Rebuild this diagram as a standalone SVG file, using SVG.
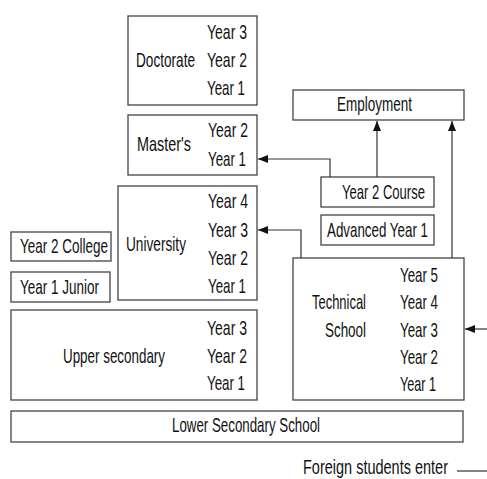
<svg xmlns="http://www.w3.org/2000/svg" width="487" height="479" viewBox="0 0 487 479">
<defs>
<style>
.box{fill:#fff;stroke:#444;stroke-width:1.3}
.t{font-family:"Liberation Sans",Arial,sans-serif;font-size:21px;fill:#111}
.c{fill:none;stroke:#333;stroke-width:1.2}
</style>
<marker id="ah" viewBox="0 0 10 8" refX="10" refY="4" markerWidth="10" markerHeight="8" markerUnits="userSpaceOnUse" orient="auto">
<path d="M0,0 L10,4 L0,8 Z" fill="#111"/>
</marker>
</defs>
<rect width="487" height="479" fill="#fff"/>
<g id="doctorate">
<rect class="box" x="128" y="16" width="129" height="89"/>
<text class="t" x="136" y="67" textLength="59" lengthAdjust="spacingAndGlyphs">Doctorate</text>
<text class="t" x="207" y="39" textLength="40" lengthAdjust="spacingAndGlyphs">Year 3</text>
<text class="t" x="207" y="67" textLength="40" lengthAdjust="spacingAndGlyphs">Year 2</text>
<text class="t" x="207" y="95" textLength="38" lengthAdjust="spacingAndGlyphs">Year 1</text>
</g>
<g id="masters">
<rect class="box" x="128" y="115" width="129" height="60"/>
<text class="t" x="137" y="151" textLength="54" lengthAdjust="spacingAndGlyphs">Master's</text>
<text class="t" x="208" y="137" textLength="40" lengthAdjust="spacingAndGlyphs">Year 2</text>
<text class="t" x="208" y="166" textLength="38" lengthAdjust="spacingAndGlyphs">Year 1</text>
</g>
<g id="university">
<rect class="box" x="118" y="186" width="139" height="114"/>
<text class="t" x="126" y="251" textLength="60" lengthAdjust="spacingAndGlyphs">University</text>
<text class="t" x="208" y="208" textLength="40" lengthAdjust="spacingAndGlyphs">Year 4</text>
<text class="t" x="208" y="237" textLength="40" lengthAdjust="spacingAndGlyphs">Year 3</text>
<text class="t" x="208" y="265" textLength="40" lengthAdjust="spacingAndGlyphs">Year 2</text>
<text class="t" x="208" y="293" textLength="38" lengthAdjust="spacingAndGlyphs">Year 1</text>
</g>
<g id="year2college">
<rect class="box" x="11" y="232" width="100" height="29"/>
<text class="t" x="20" y="253" textLength="88" lengthAdjust="spacingAndGlyphs">Year 2 College</text>
</g>
<g id="year1junior">
<rect class="box" x="11" y="272" width="99" height="30"/>
<text class="t" x="20" y="294" textLength="79" lengthAdjust="spacingAndGlyphs">Year 1 Junior</text>
</g>
<g id="uppersecondary">
<rect class="box" x="11" y="310" width="246" height="90"/>
<text class="t" x="63" y="363" textLength="102" lengthAdjust="spacingAndGlyphs">Upper secondary</text>
<text class="t" x="207" y="335" textLength="40" lengthAdjust="spacingAndGlyphs">Year 3</text>
<text class="t" x="207" y="363" textLength="40" lengthAdjust="spacingAndGlyphs">Year 2</text>
<text class="t" x="207" y="390" textLength="38" lengthAdjust="spacingAndGlyphs">Year 1</text>
</g>
<g id="lowersecondary">
<rect class="box" x="11" y="411" width="452" height="31"/>
<text class="t" x="172" y="432" textLength="148" lengthAdjust="spacingAndGlyphs">Lower Secondary School</text>
</g>
<g id="technical">
<rect class="box" x="293" y="258" width="171" height="142"/>
<text class="t" x="312" y="309" textLength="54" lengthAdjust="spacingAndGlyphs">Technical</text>
<text class="t" x="325" y="337" textLength="41" lengthAdjust="spacingAndGlyphs">School</text>
<text class="t" x="400" y="282" textLength="38" lengthAdjust="spacingAndGlyphs">Year 5</text>
<text class="t" x="400" y="309" textLength="38" lengthAdjust="spacingAndGlyphs">Year 4</text>
<text class="t" x="400" y="337" textLength="38" lengthAdjust="spacingAndGlyphs">Year 3</text>
<text class="t" x="400" y="364" textLength="38" lengthAdjust="spacingAndGlyphs">Year 2</text>
<text class="t" x="400" y="391" textLength="36" lengthAdjust="spacingAndGlyphs">Year 1</text>
</g>
<g id="employment">
<rect class="box" x="293" y="90" width="171" height="30"/>
<text class="t" x="337" y="111" textLength="75" lengthAdjust="spacingAndGlyphs">Employment</text>
</g>
<g id="year2course">
<rect class="box" x="321" y="177" width="113" height="30"/>
<text class="t" x="342" y="199" textLength="83" lengthAdjust="spacingAndGlyphs">Year 2 Course</text>
</g>
<g id="advancedyear1">
<rect class="box" x="321" y="215" width="113" height="30"/>
<text class="t" x="327" y="237" textLength="101" lengthAdjust="spacingAndGlyphs">Advanced Year 1</text>
</g>
<g id="foreign">
<text class="t" x="303" y="474" textLength="145" lengthAdjust="spacingAndGlyphs">Foreign students enter</text>
</g>
<g id="connectors">
<path class="c" d="M330,177 V159 H258" marker-end="url(#ah)"/>
<path class="c" d="M377,177 V121" marker-end="url(#ah)"/>
<path class="c" d="M452,258 V121" marker-end="url(#ah)"/>
<path class="c" d="M301,258 V230 H258" marker-end="url(#ah)"/>
<path class="c" d="M487,329 H465" marker-end="url(#ah)"/>
<path class="c" d="M457,471 H487"/>
</g>
</svg>
